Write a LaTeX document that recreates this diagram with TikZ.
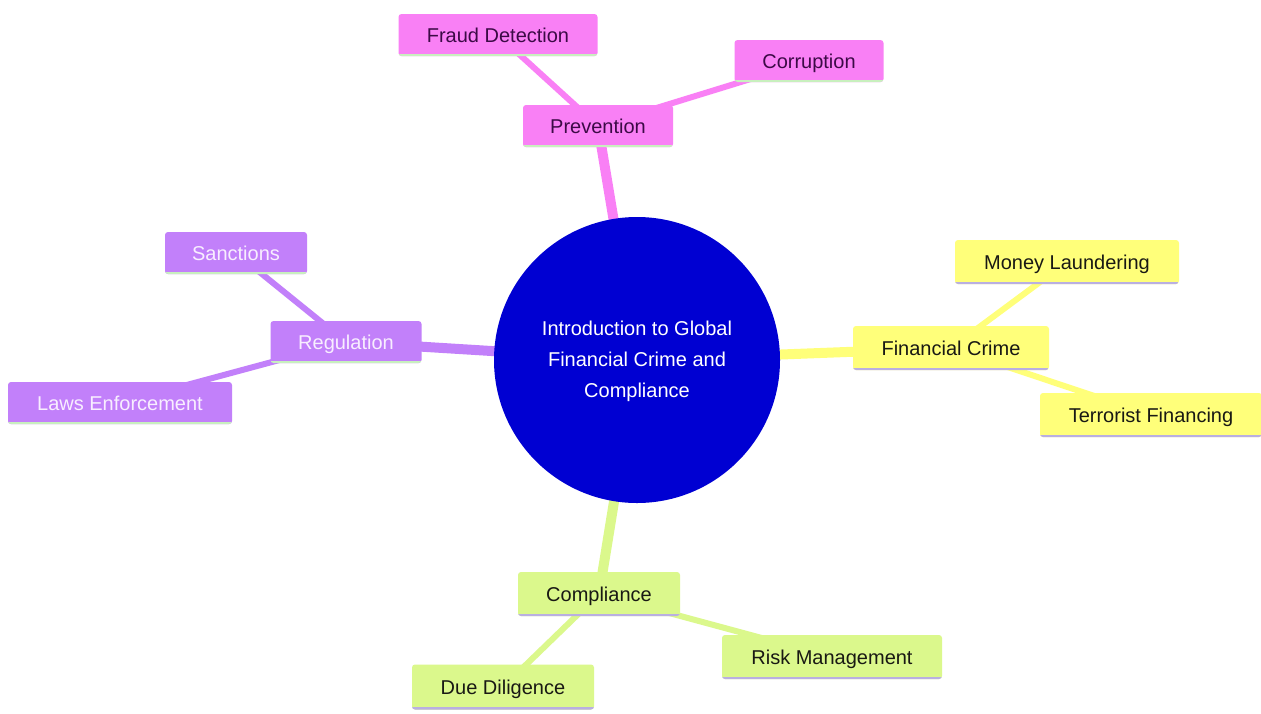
\documentclass[tikz,border=0pt]{standalone}
\usepackage{fontspec}
\setmainfont{Liberation Sans}
\definecolor{pinkf}{RGB}{249,128,245}
\definecolor{purpf}{RGB}{194,128,250}
\definecolor{yelf}{RGB}{255,255,122}
\definecolor{grnf}{RGB}{219,248,140}
\definecolor{lgline}{RGB}{200,240,190}
\definecolor{lavline}{RGB}{185,175,225}
\definecolor{ctrblue}{RGB}{0,0,210}
\definecolor{pinkt}{RGB}{60,10,70}
\definecolor{purpt}{RGB}{248,238,255}
\definecolor{darkt}{RGB}{25,25,20}
\pgfdeclarelayer{background}
\pgfsetlayers{background,main}
\tikzset{
  box/.style={rectangle, rounded corners=3pt, inner sep=0pt, text height=18pt, text depth=4pt, font=\fontsize{20}{24}\selectfont},
  pinkbox/.style={box, fill=pinkf, text=pinkt, path picture={\draw[line width=5pt, lgline] (path picture bounding box.south west) -- (path picture bounding box.south east);}},
  purpbox/.style={box, fill=purpf, text=purpt, path picture={\draw[line width=5pt, lgline] (path picture bounding box.south west) -- (path picture bounding box.south east);}},
  yelbox/.style={box, fill=yelf, text=darkt, path picture={\draw[line width=5pt, lavline] (path picture bounding box.south west) -- (path picture bounding box.south east);}},
  grnbox/.style={box, fill=grnf, text=darkt, path picture={\draw[line width=5pt, lavline] (path picture bounding box.south west) -- (path picture bounding box.south east);}},
  mainedge/.style={line width=10pt},
  leafedge/.style={line width=6pt},
}
\begin{document}
\begin{tikzpicture}[x=1pt,y=-1pt]
\useasboundingbox (0,0) rectangle (1261,713);
% nodes
\node[circle, fill=ctrblue, minimum size=286pt, inner sep=0pt, text=white,
  font=\fontsize{20}{31}\selectfont] (root) at (637,360)
  {\raisebox{-2pt}{\begin{tabular}{@{}c@{}}Introduction to Global\\Financial Crime and\\Compliance\end{tabular}}};
\node[pinkbox, minimum width=150pt, minimum height=42pt] (prev) at (598,126) {Prevention};
\node[pinkbox, minimum width=199pt, minimum height=42pt] (fraud) at (498,35) {Fraud Detection};
\node[pinkbox, minimum width=149pt, minimum height=42pt] (corr) at (809,61) {Corruption};
\node[purpbox, minimum width=151pt, minimum height=42pt] (reg) at (346,342) {Regulation};
\node[purpbox, minimum width=142pt, minimum height=42pt] (sanc) at (236,253) {Sanctions};
\node[purpbox, minimum width=224pt, minimum height=42pt] (laws) at (120,403) {Laws Enforcement};
\node[yelbox, minimum width=196pt, minimum height=44pt] (fc) at (951,348) {Financial Crime};
\node[yelbox, minimum width=224pt, minimum height=44pt] (ml) at (1067,262) {Money Laundering};
\node[yelbox, minimum width=222pt, minimum height=44pt] (tf) at (1151,415) {Terrorist Financing};
\node[grnbox, minimum width=162pt, minimum height=44pt] (comp) at (599,594) {Compliance};
\node[grnbox, minimum width=220pt, minimum height=44pt] (risk) at (832,657) {Risk Management};
\node[grnbox, minimum width=182pt, minimum height=45pt] (due) at (503,687) {Due Diligence};
% edges behind
\begin{pgfonlayer}{background}
\fill[white] (0,0) rectangle (1261,713);
\draw[mainedge, pinkf] (root.center) -- (prev.center);
\draw[mainedge, purpf] (root.center) -- (reg.center);
\draw[mainedge, yelf] (root.center) -- (fc.center);
\draw[mainedge, grnf] (root.center) -- (comp.center);
\draw[leafedge, pinkf] (prev.center) -- (fraud.center);
\draw[leafedge, pinkf] (prev.center) -- (corr.center);
\draw[leafedge, purpf] (reg.center) -- (sanc.center);
\draw[leafedge, purpf] (reg.center) -- (laws.center);
\draw[leafedge, yelf] (fc.center) -- (ml.center);
\draw[leafedge, yelf] (fc.center) -- (tf.center);
\draw[leafedge, grnf] (comp.center) -- (risk.center);
\draw[leafedge, grnf] (comp.center) -- (due.center);
\end{pgfonlayer}
\end{tikzpicture}
\end{document}
